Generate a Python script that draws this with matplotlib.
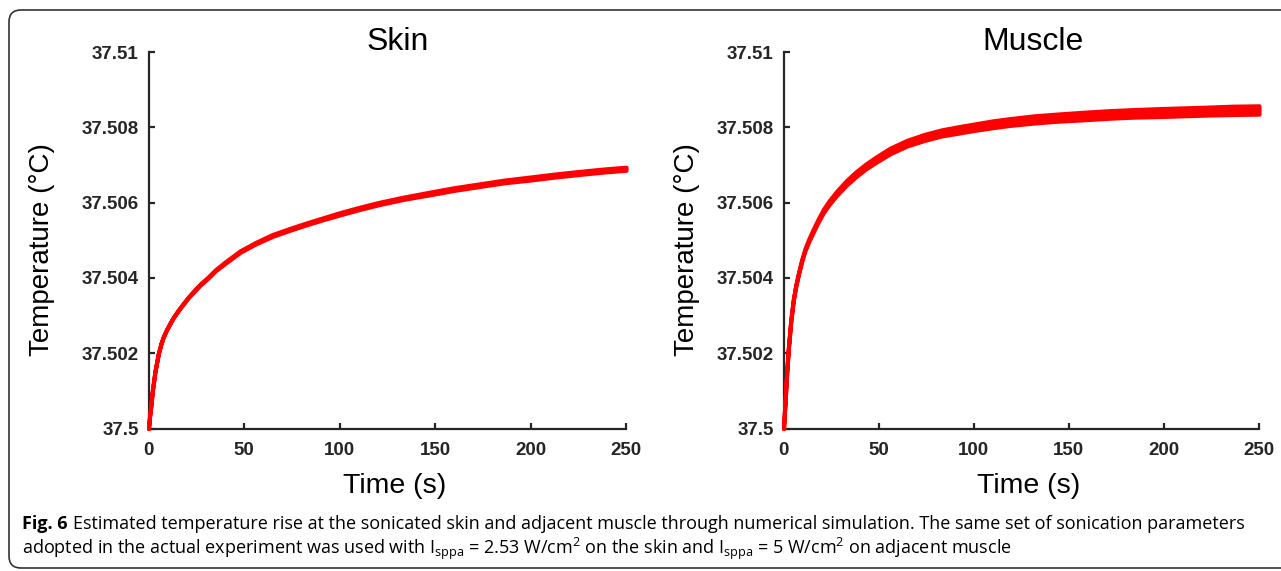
"""
Estimated temperature rise at sonicated skin and adjacent muscle (Fig. 6)
"""

### Import modules
import numpy as np
import matplotlib
matplotlib.use('Agg')
import matplotlib.pyplot as plt
from matplotlib.patches import FancyBboxPatch
from matplotlib.ticker import FormatStrFormatter

### Data (time in s, temperature in degC)
skin_time = [0, 0.5, 1.2, 2.0, 3.4, 5.1, 6.5, 7.7, 9.5, 11.2,
             13, 15.6, 18, 20.8, 24, 27, 31, 35, 40, 48,
             56, 65, 74, 83, 92, 100, 110, 121, 134, 147,
             160, 173, 186, 200, 213, 226, 238, 250]
skin_temp = [37.5, 37.50030, 37.50060, 37.50100, 37.50152, 37.50198, 37.50225, 37.50243, 37.50263, 37.50279,
             37.50295, 37.50314, 37.50330, 37.50348, 37.50366, 37.50382, 37.50400, 37.50420, 37.50440, 37.50470,
             37.50492, 37.50513, 37.50529, 37.50544, 37.50558, 37.50570, 37.50584, 37.50598, 37.50612, 37.50624,
             37.50636, 37.50646, 37.50656, 37.50664, 37.50672, 37.50679, 37.50685, 37.50690]
# peak-to-peak spread of the pulsed trace
skin_band = [0, 0, 0, 0, 0, 0, 0, 0, 0.00001, 0.00001,
             0.00001, 0.00002, 0.00002, 0.00002, 0.00003, 0.00003, 0.00003, 0.00003, 0.00004, 0.00004,
             0.00004, 0.00005, 0.00005, 0.00005, 0.00005, 0.00006, 0.00006, 0.00006, 0.00006, 0.00007,
             0.00007, 0.00007, 0.00007, 0.00008, 0.00008, 0.00008, 0.00008, 0.00008]

muscle_time = [0, 0.4, 0.8, 1.7, 2.5, 3.8, 5.1, 6.4, 7.8, 9.5,
               11.3, 13.3, 15.6, 18, 21, 24, 28, 33, 38, 43,
               48, 56, 65, 74, 83, 92, 100, 110, 119, 132,
               145, 158, 171, 184, 197, 210, 223, 236, 250]
muscle_temp = [37.5, 37.50035, 37.50070, 37.50150, 37.50210, 37.50285, 37.50340, 37.50378, 37.50410, 37.50445,
               37.50475, 37.50500, 37.50525, 37.50550, 37.50578, 37.50600, 37.50625, 37.50652, 37.50675, 37.50695,
               37.50712, 37.50737, 37.50758, 37.50773, 37.50785, 37.50793, 37.50800, 37.50808, 37.50814, 37.50821,
               37.50826, 37.50830, 37.50834, 37.50837, 37.50839, 37.50841, 37.50843, 37.50845, 37.50846]
muscle_band = [0, 0, 0, 0, 0, 0.00001, 0.00002, 0.00003, 0.00004, 0.00005,
               0.00006, 0.00007, 0.00008, 0.00008, 0.00009, 0.00010, 0.00011, 0.00012, 0.00013, 0.00013,
               0.00014, 0.00015, 0.00015, 0.00016, 0.00016, 0.00017, 0.00017, 0.00018, 0.00018, 0.00019,
               0.00019, 0.00020, 0.00020, 0.00020, 0.00021, 0.00021, 0.00021, 0.00022, 0.00022]

titles = ['Skin', 'Muscle']
xticks = [0, 50, 100, 150, 200, 250]
yticks = [37.5, 37.502, 37.504, 37.506, 37.508, 37.51]

caption_bold = 'Fig. 6'
caption_1 = ('Estimated temperature rise at the sonicated skin and adjacent muscle '
             'through numerical simulation. The same set of sonication parameters')
caption_2 = (r'adopted in the actual experiment was used with $\mathregular{I_{sppa}}$'
             r' = 2.53 W/cm$\mathregular{^2}$ on the skin and $\mathregular{I_{sppa}}$'
             r' = 5 W/cm$\mathregular{^2}$ on adjacent muscle')

### Style
W, H = 1281, 571
axfont = 'Liberation Sans'
capfont = ['Open Sans', 'DejaVu Sans']
capsize = 13.0
spinecol = '#262626'

fig = plt.figure(figsize=(W/100, H/100), dpi=100)

### Rounded frame around the figure (runs off the right edge)
frame = FancyBboxPatch((0.09, 0.03), 12.9, 5.58,
                       boxstyle='round,pad=0,rounding_size=0.12',
                       transform=fig.dpi_scale_trans, fill=False,
                       edgecolor='#333333', linewidth=1.2)
fig.add_artist(frame)

### Panels
axpos = [[148.5/W, 1 - 428.5/H, 477.5/W, 376.5/H],
         [783.5/W, 1 - 428.5/H, 475.5/W, 376.5/H]]
series = [(skin_time, skin_temp, skin_band),
          (muscle_time, muscle_temp, muscle_band)]
titlex = [0.5225, 0.5247]
ylabx = [-0.196, -0.176]

for i in range(2):
    ax = fig.add_axes(axpos[i])
    t = np.array(series[i][0])
    temp = np.array(series[i][1])
    band = np.array(series[i][2])

    ax.fill_between(t, temp - band/2, temp + band/2, facecolor='#ff0000',
                    edgecolor='#ff0000', linewidth=3, joinstyle='round',
                    capstyle='round', clip_on=False, zorder=3)

    ax.set_xlim(0, 250)
    ax.set_ylim(37.5, 37.51)
    ax.set_xticks(xticks)
    ax.set_yticks(yticks)
    ax.yaxis.set_major_formatter(FormatStrFormatter('%g'))

    for s in ['top', 'right']:
        ax.spines[s].set_visible(False)
    for s in ['left', 'bottom']:
        ax.spines[s].set_linewidth(1.6)
        ax.spines[s].set_color(spinecol)
    ax.tick_params(direction='in', length=4.5, width=1.6, color=spinecol,
                   labelcolor=spinecol)
    ax.tick_params(axis='y', pad=7)
    ax.tick_params(axis='x', pad=10)
    for lab in ax.get_xticklabels() + ax.get_yticklabels():
        lab.set_family(axfont)
        lab.set_weight('bold')
        lab.set_fontsize(13.5)

    # title sits almost on the top of the axis, as in the original
    ax.text(titlex[i], 1.006, titles[i], transform=ax.transAxes, family=axfont,
            fontsize=23, ha='center', va='baseline')
    ax.set_xlabel('Time (s)', family=axfont, fontsize=20.5)
    ax.xaxis.set_label_coords(0.516, -0.119)
    ax.set_ylabel('Temperature (\u00b0C)', family=axfont, fontsize=20)
    ax.yaxis.set_label_coords(ylabx[i], 0.475)

### Caption
t1 = fig.text(22/W, 1 - 529/H, caption_bold, family=capfont, weight='bold',
              fontsize=capsize, va='baseline')
fig.canvas.draw()
bb = t1.get_window_extent()
fig.text((bb.x1 + 5)/W, 1 - 529/H, caption_1, family=capfont, fontsize=capsize,
         va='baseline')
fig.text(22/W, 1 - 554/H, caption_2, family=capfont, fontsize=capsize,
         va='baseline')

plt.savefig('out.png', dpi=100)
